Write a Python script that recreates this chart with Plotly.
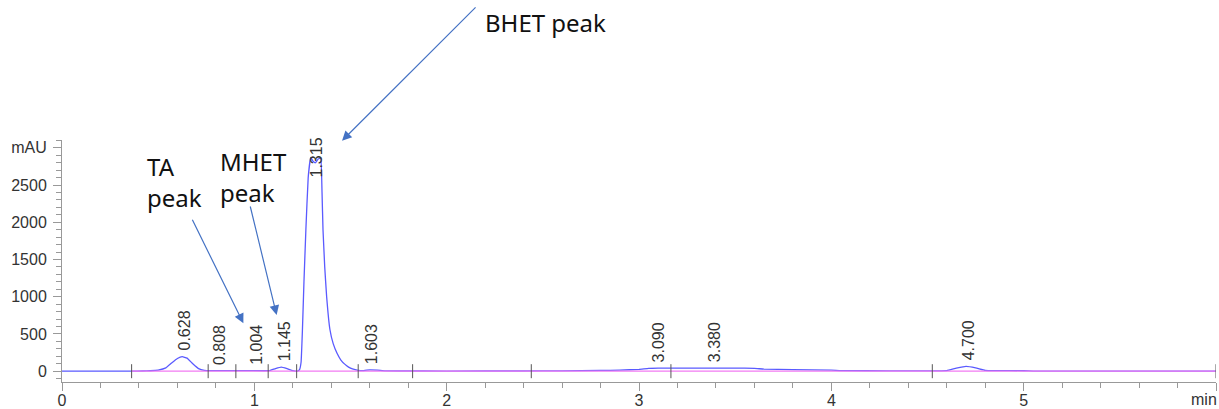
import plotly.graph_objects as go

# Chromatogram signal (time in min, signal in mAU)
time_min = [0.00, 0.30, 0.36, 0.42, 0.46, 0.50, 0.54, 0.57, 0.60, 0.625, 0.65, 0.68, 0.71, 0.74,
            0.78, 0.85, 0.95, 1.05, 1.08, 1.11, 1.14, 1.17, 1.20, 1.225, 1.235, 1.243, 1.250,
            1.258, 1.268, 1.280, 1.293, 1.305, 1.318, 1.332, 1.345, 1.352, 1.357, 1.366, 1.376,
            1.393, 1.41, 1.43, 1.45, 1.47, 1.49, 1.51, 1.54, 1.57, 1.60, 1.64, 1.68, 1.75, 2.0,
            2.4, 2.6, 2.8, 2.9, 3.0, 3.05, 3.1, 3.3, 3.5, 3.6, 3.65, 3.8, 4.0, 4.05, 4.3, 4.55,
            4.6, 4.65, 4.70, 4.75, 4.8, 4.85, 5.0, 5.05, 6.0]
signal_mau = [0, 0, 1, 3, 6, 15, 45, 110, 170, 195, 175, 100, 35, 12,
              8, 7, 7, 6, 8, 35, 55, 35, 8, 2, 20, 120, 550,
              1200, 1900, 2600, 2870, 2820, 2800, 2850, 2860, 2400, 1900, 1400, 1000,
              560, 370, 240, 150, 95, 55, 30, 12, 8, 18, 14, 5, 3, 2,
              3, 5, 10, 15, 25, 38, 42, 42, 42, 38, 28, 22, 15, 8, 5, 5,
              8, 40, 65, 45, 12, 8, 6, 2, 1]

# Integration baseline and its event marks
baseline_t = [0.362, 6.0]
baseline_v = [0, 0]
event_t = [0.362, 0.76, 0.904, 1.072, 1.22, 1.54, 1.823, 2.44, 3.166, 4.525, 6.0]

# Peak retention-time labels and the signal level each label sits on
peak_rt = [0.628, 0.808, 1.004, 1.145, 1.315, 1.603, 3.090, 3.380, 4.700]
peak_labels = ["0.628", "0.808", "1.004", "1.145", "1.315", "1.603", "3.090", "3.380", "4.700"]
label_base = [195, 8, 7, 55, 2520, 18, 42, 42, 65]

x_tickvals = [0, 1, 2, 3, 4, 5, 6]
x_ticktext = ["0", "1", "2", "3", "4", "5", ""]
x_unit = "min"
y_tickvals = [0, 500, 1000, 1500, 2000, 2500, 3000]
y_ticktext = ["0", "500", "1000", "1500", "2000", "2500", "mAU"]

fig = go.Figure()
fig.add_trace(go.Scatter(x=time_min, y=signal_mau, mode="lines",
                         line=dict(color="#5a5aff", width=1.3, shape="spline", smoothing=0.3),
                         hoverinfo="skip", showlegend=False))
fig.add_trace(go.Scatter(x=baseline_t, y=baseline_v, mode="lines",
                         line=dict(color="#f27af2", width=1.3),
                         hoverinfo="skip", showlegend=False))
fig.add_trace(go.Scatter(x=event_t, y=[0] * len(event_t), mode="markers",
                         marker=dict(symbol="line-ns", size=10,
                                     line=dict(color="#555555", width=1)),
                         hoverinfo="skip", showlegend=False))

ann = []
for rt, lab, b in zip(peak_rt, peak_labels, label_base):
    ann.append(dict(x=rt, y=b, xref="x", yref="y", text=lab, showarrow=False,
                    textangle=-90, xanchor="center", yanchor="bottom", xshift=2, yshift=4,
                    font=dict(family="Liberation Sans, Arial", size=16, color="#333333")))

arrow_style = dict(showarrow=True, arrowhead=2, arrowsize=1.6, arrowwidth=1.2,
                   arrowcolor="#4472c4", text="", xref="x", yref="y", axref="x", ayref="y",
                   standoff=0, startstandoff=0)
ann.append(dict(x=0.943, y=643, ax=0.674, ay=2053, **arrow_style))
ann.append(dict(x=1.116, y=755, ax=0.977, ay=2232, **arrow_style))
ann.append(dict(x=1.456, y=3095, ax=2.158, ay=4907, **arrow_style))

text_font = dict(family="Noto Sans, Open Sans", size=24, color="#111111")
ann.append(dict(x=0.072, y=0.826, xref="paper", yref="paper", text="TA<br>peak",
                showarrow=False, xanchor="left", yanchor="middle", align="left", font=text_font))
ann.append(dict(x=0.135, y=0.847, xref="paper", yref="paper", text="MHET<br>peak",
                showarrow=False, xanchor="left", yanchor="middle", align="left", font=text_font))
ann.append(dict(x=0.365, y=1.484, xref="paper", yref="paper", text="BHET peak",
                showarrow=False, xanchor="left", yanchor="middle", align="left", font=text_font))

tick_font = dict(family="Liberation Sans, Arial", size=16, color="#333333")
ann.append(dict(x=1.0, y=-0.074, xref="paper", yref="paper", text=x_unit, showarrow=False,
                xanchor="right", yanchor="middle", xshift=3, font=tick_font))

fig.update_layout(
    width=1219, height=409,
    margin=dict(l=62, r=3, t=140, b=27),
    paper_bgcolor="white", plot_bgcolor="white",
    annotations=ann,
    xaxis=dict(range=[0, 6], tickvals=x_tickvals, ticktext=x_ticktext, automargin=False,
               showgrid=False, zeroline=False, showline=True, linecolor="#999999",
               ticks="outside", ticklen=8, tickcolor="#999999", tickfont=tick_font,
               ticklabelstandoff=-4,
               minor=dict(dtick=0.2, ticks="outside", ticklen=5, tickcolor="#999999")),
    yaxis=dict(range=[-145, 3105], tickvals=y_tickvals, ticktext=y_ticktext, automargin=False,
               showgrid=False, zeroline=False, showline=True, linecolor="#999999",
               ticks="outside", ticklen=8, tickcolor="#999999", tickfont=tick_font,
               ticklabelstandoff=3,
               minor=dict(tickvals=list(range(-100, 3101, 100)), ticks="outside",
                          ticklen=5, tickcolor="#999999")),
)

fig.write_html("out.html")
